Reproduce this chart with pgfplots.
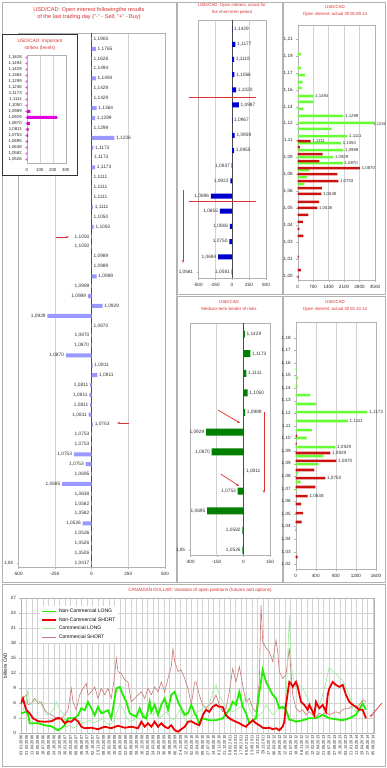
\documentclass[border=0pt]{standalone}
\usepackage{pgfplots}
\pgfplotsset{compat=1.18}
\usepackage{fontspec}
\setmainfont{Liberation Sans}
\usetikzlibrary{arrows.meta}
\definecolor{ttl}{HTML}{D83030}
\definecolor{arrowred}{HTML}{E03030}
\definecolor{barblue}{HTML}{9999FF}
\definecolor{darkblue}{HTML}{0000CC}
\definecolor{mag}{HTML}{E000E0}
\definecolor{lgreen}{HTML}{66FF33}
\definecolor{dred}{HTML}{CC1111}
\definecolor{dgreen}{HTML}{007F00}
\definecolor{ncgreen}{HTML}{22EE00}
\definecolor{ncred}{HTML}{EE0000}
\definecolor{cgreen}{HTML}{99EE99}
\definecolor{cred}{HTML}{CC7777}
\pgfplotsset{
  panel/.style={
    scale only axis, anchor=north west, clip=false,
    axis line style={gray!60},
    tick style={gray!60}, major tick length=1.5pt, tick align=outside, tick pos=left,
    xmajorgrids, grid style={gray!35, line width=0.4pt},
    ticklabel style={font=\fontsize{4.6}{5}\selectfont, text=black!85},
    /pgf/number format/assume math mode=true,
    /pgf/number format/1000 sep={},
    scaled ticks=false,
  },
  lbl/.style={nodes near coords, point meta=explicit symbolic,
    every node near coord/.append style={font=\fontsize{4.8}{5}\selectfont, text=black!80, inner sep=1.6pt}},
  lblR/.style={lbl, every node near coord/.append style={anchor=west}},
  lblL/.style={lbl, every node near coord/.append style={anchor=east}},
}
\begin{document}
\begin{tikzpicture}[x=1pt,y=1pt]
\path[use as bounding box] (0,0) rectangle (386,-768);
\fill[white] (0,0) rectangle (386,-768);
% panel frames
\begin{scope}[gray!60, line width=0.8pt]
\draw (2,-2) rectangle (176,-582);
\draw (177,-2) rectangle (282,-294);
\draw (283,-2) rectangle (385,-294);
\draw (177,-296) rectangle (282,-582);
\draw (283,-296) rectangle (385,-582);
\draw (2,-584) rectangle (385,-766);
\end{scope}
\tikzset{ttlnode/.style={text=ttl, align=center, inner sep=0pt},
  rarr/.style={-{Stealth[length=3pt,width=2.2pt]}, draw=arrowred, line width=0.7pt},
  rline/.style={draw=arrowred, line width=0.7pt}}
\node[ttlnode, font=\fontsize{5.6}{7}\selectfont] at (89,-13.5) {USD/CAD: Open interest followingthe results\\of the last trading day ("-" - Sell; "+" - Buy)};
\node[ttlnode, font=\fontsize{4.3}{7.5}\selectfont] at (232,-9) {USD/CAD: Open interest, actual for\\the short-term period};
\node[ttlnode, font=\fontsize{4.4}{7}\selectfont] at (335,-10.5) {USD/CAD\\Open interest, actual till 05.09.14};
\node[ttlnode, font=\fontsize{4.4}{7}\selectfont] at (229,-305.5) {USD/CAD\\Medium-term border of risks};
\node[ttlnode, font=\fontsize{4.4}{7}\selectfont] at (335,-305.5) {USD/CAD\\Open interest, actual till 03.10.14};
\node[ttlnode, font=\fontsize{4.6}{5}\selectfont] at (200,-590) {CANADIAN DOLLAR: Variation of open positions (futures and options)};

% ---------- Panel 1 ----------
\begin{axis}[panel, at={(18pt,-33pt)}, width=147pt, height=534pt,
  xmin=-500, xmax=500, ymin=0.6, ymax=54.6,
  xtick={-500,-250,0,250,500}, ytick={1}, yticklabel={1,04}]
\draw[gray!60!black, line width=0.7pt] (axis cs:0,0.6) -- (axis cs:0,54.6);
\addplot[xbar, bar shift=0pt, bar width=4pt, fill=barblue, draw=none, lblR] table[x=v,y=p,meta=lab] {
p v lab
54 2 1,1905
53 30 1,1765
52 2 1,1628
51 2 1,1494
50 30 1,1494
49 2 1,1429
48 2 1,1429
47 35 1,1364
46 25 1,1299
45 2 1,1299
44 155 1,1236
43 12 1,1173
42 5 1,1173
41 25 1,1173
40 2 1,1111
39 2 1,1111
38 2 1,1111
37 10 1,1111
36 2 1,1050
35 15 1,1050
32 2 1,0989
31 2 1,0989
30 35 1,0989
27 75 1,0929
25 2 1,0870
21 8 1,0811
20 40 1,0811
15 10 1,0753
};
\addplot[xbar, bar shift=0pt, bar width=4pt, fill=barblue, draw=none, lblL] table[x=v,y=p,meta=lab] {
p v lab
34 -2 1,1050
33 -2 1,1050
29 -2 1,0989
28 -25 1,0989
26 -300 1,0929
24 -2 1,0870
23 -5 1,0870
22 -175 1,0870
19 -10 1,0811
18 -15 1,0811
17 -10 1,0811
16 -20 1,0811
14 -2 1,0753
13 -2 1,0753
12 -120 1,0753
11 -40 1,0753
10 -2 1,0695
9 -200 1,0695
8 -3 1,0638
7 -3 1,0582
6 -3 1,0582
5 -60 1,0526
4 -2 1,0526
3 -3 1,0526
2 -3 1,0526
1 -2 1,0417
};
\end{axis}
\draw[rarr] (56,-237) -- (69,-237);
\draw[rarr] (129,-423) -- (117,-423);

% inset
\fill[white] (2,-34) rectangle (77,-175);
\draw[gray!40!black, line width=0.7pt] (2,-34) rectangle (77,-175);
\node[ttlnode, font=\fontsize{4.8}{6.5}\selectfont] at (40,-45) {USD/CAD: Important\\strikes (levels)};
\begin{axis}[panel, at={(26.7pt,-55pt)}, width=39pt, height=108pt,
  xmin=0, xmax=300, ymin=0.4, ymax=18.4,
  xtick={0,100,200,300}, ytick={1,...,18},
  ticklabel style={font=\fontsize{4.3}{4.5}\selectfont},
  yticklabels={{1,0526},{1,0582},{1,0638},{1,0695},{1,0753},{1,0811},{1,0870},{1,0929},{1,0989},{1,1050},{1,1111},{1,1173},{1,1236},{1,1299},{1,1364},{1,1429},{1,1494},{1,1628}}]
\addplot[xbar, bar shift=0pt, bar width=3pt, fill=mag, draw=none] table[x=v,y=p] {
p v
18 3
17 3
16 3
15 3
14 3
13 5
12 3
11 3
10 3
9 28
8 235
7 25
6 14
5 10
4 8
3 3
2 3
1 3
};
\end{axis}

% ---------- Panel 2 ----------
\begin{axis}[panel, at={(198pt,-20pt)}, width=68pt, height=258pt,
  xmin=-500, xmax=500, ymin=0.6, ymax=17.6,
  xtick={-500,-250,0,250,500}, ytick={1}, yticklabel={1,0581}]
\draw[gray!60!black, line width=0.7pt] (axis cs:0,0.6) -- (axis cs:0,17.6);
\addplot[xbar, bar shift=0pt, bar width=5pt, fill=darkblue, draw=none, lblR] table[x=v,y=p,meta=lab] {
p v lab
17 5 1,1429
16 50 1,1177
15 30 1,1119
14 35 1,1066
13 60 1,1020
12 100 1,0987
11 5 1,0967
10 40 1,0959
9 30 1,0955
};
\addplot[xbar, bar shift=0pt, bar width=5pt, fill=darkblue, draw=none, lblL] table[x=v,y=p,meta=lab] {
p v lab
8 -5 1,0937
7 -25 1,0922
6 -310 1,0896
5 -180 1,0855
4 -30 1,0806
3 -40 1,0750
2 -205 1,0694
1 -5 1,0581
};
\end{axis}
\draw[rline] (189,-97) -- (256,-97);
\draw[rline] (189,-201) -- (256,-201);
\draw[rarr] (183,-190) -- (183,-263);

% ---------- Panel 3 ----------
\begin{axis}[panel, at={(297.7pt,-25pt)}, width=77.3pt, height=255pt,
  xmin=0, xmax=3500, ymin=0.9965, ymax=1.2224,
  xtick={0,700,1400,2100,2800,3500},
  ytick={1.000,1.015,1.030,1.045,1.060,1.075,1.090,1.105,1.120,1.135,1.150,1.165,1.180,1.195,1.210},
  yticklabels={{1,00},{1,01},{1,03},{1,04},{1,05},{1,06},{1,08},{1,09},{1,11},{1,12},{1,14},{1,16},{1,17},{1,19},{1,21}}]
\addplot[xbar, bar shift=0pt, bar width=2.5pt, fill=lgreen, draw=none] table[x=v,y=p] {
p v
1.1967 150
1.1843 150
1.1781 330
1.1719 220
1.1666 180
1.1595 710
1.1542 710
1.1480 260
1.1418 2070
1.1356 3470
1.1303 1540
1.1240 2250
1.1178 1960
1.1116 2070
1.1054 1610
1.1001 2040
1.0939 530
1.0877 410
1.0815 300
};
\addplot[xbar, bar shift=0pt, bar width=2.5pt, fill=dred, draw=none] table[x=v,y=p] {
p v
1.1196 590
1.1143 100
1.1081 1130
1.1019 980
1.0957 2820
1.0904 1800
1.0842 1840
1.0780 1090
1.0727 1070
1.0656 970
1.0603 890
1.0541 480
1.0479 230
1.0417 80
1.0355 260
1.0169 40
1.0053 140
0.9991 40
};
\addplot[draw=none, lblR, every node near coord/.append style={font=\fontsize{4.3}{5}\selectfont}] table[x=v,y=p,meta=lab] {
p v lab
1.1595 710 1,1494
1.1418 2070 1,1299
1.1240 2250 1,1111
1.1178 1960 1,1050
1.1116 2070 1,0989
1.1054 1610 1,0929
1.1001 2040 1,0870
1.1196 590 1,1111
1.0957 2820 1,0870
1.0842 1840 1,0753
1.0727 1070 1,0638
1.0603 890 1,0526
};
\addplot[draw=none, lbl, every node near coord/.append style={font=\fontsize{4.1}{5}\selectfont, anchor=west, inner sep=0pt, xshift=-1.2pt, yshift=-1.6pt}] table[x=v,y=p,meta=lab] {
p v lab
1.1356 3470 1,1236
};
\end{axis}

% ---------- Panel 4 ----------
\begin{axis}[panel, at={(190pt,-323pt)}, width=80pt, height=232pt,
  xmin=-300, xmax=150, ymin=0.75, ymax=12.56,
  xtick={-300,-150,0,150}, ytick={1}, yticklabel={1,05}]
\draw[gray!60!black, line width=0.7pt] (axis cs:0,0.75) -- (axis cs:0,12.56);
\addplot[xbar, bar shift=0pt, bar width=7pt, fill=dgreen, draw=none, lblR] table[x=v,y=p,meta=lab] {
p v lab
12 8 1,1429
11 39 1,1173
10 17 1,1111
9 24 1,1050
8 10 1,0989
5 5 1,0811
};
\addplot[xbar, bar shift=0pt, bar width=7pt, fill=dgreen, draw=none, lblL] table[x=v,y=p,meta=lab] {
p v lab
7 -210 1,0929
6 -178 1,0870
4 -32 1,0753
3 -204 1,0695
2 -5 1,0582
1 -5 1,0526
};
\end{axis}
\draw[rarr] (218,-410) -- (240,-423);
\draw[rarr] (220.7,-474) -- (239,-486);
\draw[rarr] (264,-412) -- (264,-493);

% ---------- Panel 5 ----------
\begin{axis}[panel, at={(295.7pt,-322pt)}, width=80.3pt, height=247pt,
  xmin=0, xmax=1600, ymin=1.0167, ymax=1.1911,
  xtick={0,400,800,1200,1600},
  ytick={1.02,1.02889,1.03778,1.04667,1.05556,1.06444,1.07333,1.08222,1.09111,1.1,1.10889,1.11778,1.12667,1.13556,1.14444,1.15333,1.16222,1.17111,1.18},
  yticklabels={{1,02},{1,03},{1,04},{1,04},{1,05},{1,06},{1,07},{1,08},{1,09},{1,09},{1,10},{1,11},{1,12},{1,13},{1,14},{1,15},{1,16},{1,17},{1,18}}]
\addplot[xbar, bar shift=0pt, bar width=2.6pt, fill=lgreen, draw=none] table[x=v,y=p] {
p v
1.1579 20
1.1515 50
1.1459 40
1.1395 290
1.1332 400
1.1275 1430
1.1212 1040
1.1148 320
1.1092 220
1.1028 790
1.0965 550
1.0908 450
1.0845 50
1.0781 100
1.0725 20
};
\addplot[xbar, bar shift=0pt, bar width=2.6pt, fill=dred, draw=none] table[x=v,y=p] {
p v
1.1106 30
1.1050 20
1.0986 690
1.0930 810
1.0866 370
1.0809 590
1.0746 390
1.0682 240
1.0626 110
1.0562 150
1.0499 120
1.0442 10
1.0252 40
};
\addplot[draw=none, lblR, every node near coord/.append style={font=\fontsize{4.6}{5}\selectfont}] table[x=v,y=p,meta=lab] {
p v lab
1.1275 1430 1,1173
1.1212 1040 1,1111
1.1028 790 1,0929
1.0986 690 1,0929
1.0930 810 1,0870
1.0809 590 1,0753
1.0682 240 1,0638
};
\end{axis}

% ---------- Bottom line chart ----------
\begin{axis}[panel, clip=true, at={(21pt,-598.3pt)}, width=353pt, height=134.4pt,
  xmin=0, xmax=353, ymin=0, ymax=27,
  ymajorgrids, ytick={0,3,...,27},
  xtick={0,5.5,...,352.5},
  xticklabel style={rotate=90, anchor=east, font=\fontsize{4}{4}\selectfont, inner sep=1pt},
  xticklabels={03.01.2006,21.02.2006,11.04.2006,30.05.2006,18.07.2006,05.09.2006,24.10.2006,12.12.2006,30.01.2007,20.03.2007,08.05.2007,26.06.2007,14.08.2007,02.10.2007,20.11.2007,08.01.2008,26.02.2008,15.04.2008,03.06.2008,22.07.2008,09.09.2008,28.10.2008,16.12.2008,03.02.2009,24.03.2009,12.05.2009,30.06.2009,18.08.2009,06.10.2009,24.11.2009,12.01.2010,02.03.2010,20.04.2010,08.06.2010,27.07.2010,14.09.2010,02.11.2010,21.12.2010,08.02.2011,29.03.2011,17.05.2011,05.07.2011,23.08.2011,11.10.2011,29.11.2011,17.01.2012,06.03.2012,24.04.2012,12.06.2012,31.07.2012,18.09.2012,06.11.2012,25.12.2012,12.02.2013,02.04.2013,21.05.2013,09.07.2013,27.08.2013,15.10.2013,03.12.2013,21.01.2014,11.03.2014,29.04.2014,17.06.2014,05.08.2014},
  ylabel={billions CAD}, ylabel style={font=\fontsize{4.6}{5}\selectfont, yshift=-3pt},
  legend style={at={(0.054,0.945)}, anchor=north west, draw=none, fill=white, font=\fontsize{5}{6}\selectfont, inner sep=1pt, row sep=-0.5pt},
  legend cell align=left,
  legend image code/.code={\draw[#1] (0pt,0pt) -- (14pt,0pt);}]
\addlegendimage{ncgreen, line width=1.8pt}
\addlegendentry{Non-Commercial LONG}
\addlegendimage{ncred, line width=1.8pt}
\addlegendentry{Non-Commercial SHORT}
\addlegendimage{cgreen, line width=0.6pt}
\addlegendentry{Commercial LONG}
\addlegendimage{cred, line width=0.6pt}
\addlegendentry{Commercial SHORT}
% Commercial SHORT
\addplot[cred, line width=0.6pt, forget plot] coordinates {(0,5.6)(2,6.9)(5.3,7.6)(7,5.6)(10.3,5.9)(13.7,6.9)(17,5.9)(20.3,6.2)(23.7,4.6)(27,3.9)(30.3,3.6)(33.7,3.2)(37,2.6)(40.3,2.9)(43.7,3.6)(47,4.6)(50.3,8.9)(52,6.2)(55.3,4.6)(58.7,7.6)(62,8.9)(65.3,9.9)(67,7.6)(70.3,8.2)(73.7,9.2)(77,6.9)(80.3,8.9)(83.7,7.6)(87,8.9)(90.3,6.9)(93.7,11.6)(95.3,14.9)(97,12.3)(100.3,11.9)(103.7,10.6)(107,10.2)(110.3,6.2)(113.7,6.9)(117,7.6)(120.3,8.2)(123.7,6.9)(127,8.9)(130.3,7.6)(133.7,9.2)(137,8.2)(140.3,10.2)(143.7,8.2)(147,10.9)(150.3,13.3)(152,16.9)(153.7,14.3)(157,12.3)(160.3,12.6)(163.7,10.9)(167,8.9)(170.3,5.6)(173.7,10.2)(175,10.2)(178.3,7.6)(181.7,5.6)(185,4.9)(188.3,5.6)(191.7,6.2)(195,7.6)(198.3,5.6)(201.7,4.2)(205,4.9)(208.3,8.2)(211.7,12.9)(215,10.2)(218.3,13.3)(221.7,9.6)(225,6.2)(228.3,6.9)(231.7,4.9)(235,4.2)(238.3,10.2)(240,25.7)(241.7,18.3)(245,17.0)(248.3,16.3)(251.7,14.3)(255,18.6)(256.7,16.3)(258.3,12.3)(261.7,10.9)(265,11.6)(268.3,17.0)(270,12.3)(271.7,7.6)(275,4.9)(278.3,4.2)(281.7,4.6)(285,3.6)(288.3,4.2)(291.7,3.6)(295,3.2)(298.3,3.9)(301.7,3.6)(305,4.2)(308.3,3.6)(311.7,3.9)(315,4.2)(318.3,3.9)(321.7,4.6)(325,4.9)(328.3,4.9)(331.7,5.6)(335,4.9)(338.3,5.6)(341.7,6.6)(345,6.2)};
% Commercial LONG
\addplot[cgreen, line width=0.6pt, forget plot] coordinates {(0,4.9)(2,4.6)(5.3,6.5)(7,8.6)(8.7,5.6)(12,6.2)(15.3,6.6)(18.7,6.2)(22,4.9)(25.3,3.6)(28.7,3.9)(32,4.6)(35.3,6.2)(38.7,4.6)(42,3.9)(45.3,1.2)(48.7,1.5)(52,0.9)(55.3,1.2)(58.7,2.5)(62,1.9)(65.3,2.2)(68.7,2.5)(72,1.9)(75.3,2.2)(78.7,2.5)(82,2.9)(85.3,1.9)(88.7,1.5)(92,2.2)(95.3,3.6)(98.7,5.6)(102,4.9)(105.3,3.2)(108.7,2.2)(112,2.5)(115.3,2.9)(118.7,3.9)(122,4.2)(125.3,2.5)(128.7,3.9)(132,3.6)(135.3,4.6)(138.7,2.9)(142,3.6)(145.3,4.2)(148.7,3.2)(152,2.5)(155.3,3.2)(158.7,4.6)(162,3.6)(165.3,2.2)(168.7,2.5)(172,3.6)(175,3.9)(181.7,4.9)(188.3,5.6)(191.7,8.2)(195,9.6)(198.3,7.6)(201.7,6.2)(205,4.9)(208.3,4.6)(211.7,4.2)(215,4.6)(221.7,5.6)(225,7.6)(228.3,4.9)(231.7,3.6)(235,2.9)(238.3,3.6)(241.7,4.2)(245,5.6)(248.3,4.6)(251.7,3.6)(255,4.2)(258.3,5.6)(261.7,4.6)(265,6.2)(268.3,23.6)(270,14.3)(271.7,11.6)(275,8.9)(278.3,9.6)(281.7,8.9)(285,7.6)(288.3,6.2)(291.7,4.2)(295,4.9)(298.3,5.6)(301.7,7.6)(305,10.2)(308.3,13.3)(311.7,12.3)(315,11.9)(318.3,10.9)(321.7,10.6)(325,8.9)(328.3,7.6)(331.7,4.9)(335,4.2)(338.3,4.9)(341.7,5.6)(345,4.6)};
% Non-Commercial LONG
\addplot[ncgreen, line width=1.8pt, forget plot] coordinates {(0,3.9)(5.3,4.2)(7,3.7)(8.7,1.9)(17,1.9)(23.7,1.5)(30.3,1.3)(37,0.5)(40.3,0.9)(43.7,1.5)(47,2.9)(53.7,2.9)(57,3.5)(60.3,4.9)(63.7,4.5)(67,6.2)(70.3,4.9)(73.7,3.5)(77,5.2)(80.3,3.9)(83.7,4.2)(87,4.5)(90.3,2.9)(93.7,6.9)(95.3,8.9)(98.7,9.2)(102,7.6)(105.3,6.2)(108.7,3.9)(112,3.5)(115.3,3.2)(118.7,4.9)(122,3.2)(125.3,2.9)(128.7,6.2)(130.3,4.2)(133.7,5.6)(137,3.6)(140.3,5.6)(143.7,6.9)(147,4.6)(150.3,7.6)(153.7,8.2)(157,6.2)(160.3,4.9)(163.7,3.6)(167,3.9)(170.3,5.6)(173.7,3.9)(175,3.5)(178.3,1.9)(181.7,2.9)(188.3,2.5)(195,2.5)(201.7,2.9)(208.3,4.6)(211.7,6.2)(215,5.6)(218.3,8.2)(221.7,5.2)(225,3.9)(228.3,1.9)(231.7,2.5)(235,2.9)(238.3,8.0)(241.7,12.6)(245,10.2)(248.3,8.9)(251.7,7.6)(255,6.9)(258.3,4.9)(261.7,5.2)(265,4.6)(266.7,3.6)(268.3,2.6)(271.7,2.5)(275,2.2)(281.7,2.5)(288.3,2.9)(295,2.9)(301.7,3.6)(308.3,2.9)(315,2.7)(321.7,2.5)(328.3,2.9)(335,3.6)(341.7,5.9)(345,4.6)};
% Non-Commercial SHORT
\addplot[ncred, line width=1.8pt, forget plot] coordinates {(0,5.9)(2,6.9)(3.7,5.6)(5.3,4.6)(8.7,3.9)(12,2.9)(17,2.3)(23.7,2.2)(30.3,2.3)(37,3.0)(40.3,2.8)(43.7,1.9)(47,2.3)(50.3,2.2)(53.7,2.8)(57,2.3)(60.3,1.2)(63.7,0.9)(70.3,1.0)(77,0.7)(83.7,1.2)(90.3,0.9)(97,1.4)(103.7,1.0)(110.3,1.2)(117,0.9)(120.3,2.2)(123.7,1.2)(127,1.9)(130.3,1.2)(133.7,2.2)(137,1.2)(140.3,1.9)(143.7,1.2)(147,0.9)(150.3,1.5)(153.7,0.5)(157,0.2)(160.3,0.7)(163.7,1.2)(167,2.2)(170.3,2.3)(173.7,1.9)(178.3,1.5)(181.7,3.5)(185,4.6)(188.3,4.2)(191.7,5.2)(195,5.6)(198.3,5.2)(201.7,5.2)(205,3.5)(208.3,2.9)(211.7,2.5)(215,2.2)(218.3,1.9)(221.7,1.5)(225,1.2)(228.3,1.9)(231.7,2.5)(235,1.9)(238.3,1.5)(241.7,1.0)(245,0.9)(248.3,1.0)(251.7,0.7)(255,0.9)(258.3,0.5)(261.7,1.2)(263.3,2.2)(265,5.6)(268.3,10.2)(270,9.9)(271.7,9.2)(275,10.2)(276.7,9.2)(280,6.2)(283.3,5.6)(286.7,4.6)(288.3,5.6)(291.7,4.2)(293.3,3.5)(295,6.2)(298.3,4.9)(301.7,5.6)(305,4.2)(306.7,7.6)(308.3,8.9)(311.7,10.2)(315,9.6)(318.3,9.2)(321.7,9.6)(325,7.6)(328.3,6.2)(331.7,5.6)(335,5.2)(338.3,4.6)(341.7,4.6)(345,2.9)};
\end{axis}
\draw[rarr] (382,-703) -- (370,-717);
\end{tikzpicture}
\end{document}
